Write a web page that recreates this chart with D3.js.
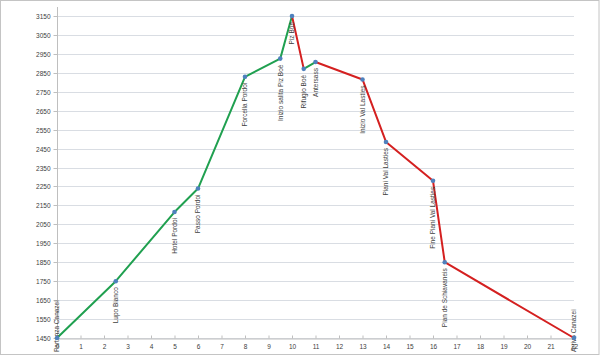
<!DOCTYPE html>
<html>
<head>
<meta charset="utf-8">
<script src="https://cdn.jsdelivr.net/npm/d3@7"></script>
<style>
  html, body { margin: 0; padding: 0; background: #fff; }
  svg { display: block; }
  text { font-family: "Liberation Sans", Arial, sans-serif; fill: #404040; }
</style>
</head>
<body>
<svg id="chart" width="600" height="357"></svg>
<script>
// ---- data ----
const places = [
  "Partenza Canazei", "Lupo Bianco", "Hotel Pordoi", "Passo Pordoi",
  "Forcella Pordoi", "Inizio salita Piz Boè", "Piz Boè", "Rifugio Boè",
  "Antersass", "Inizio Val Lasties", "Piani Val Lasties",
  "Fine Piani Val Lasties", "Pian de Schiavaneis", "Arrivo Canazei"
];
const km = [0, 2.5, 5, 6, 8, 9.5, 10, 10.5, 11, 13, 14, 16, 16.5, 22];
const altitude = [1450, 1750, 2115, 2239, 2829, 2925, 3150, 2871, 2907, 2815, 2485, 2280, 1850, 1450];
const yTicks = [1450, 1550, 1650, 1750, 1850, 1950, 2050, 2150, 2250, 2350, 2450, 2550, 2650, 2750, 2850, 2950, 3050, 3150];
const xTicks = d3.range(0, 23, 1);
const ascentColor = "#20a050";
const descentColor = "#d42020";

// ---- layout ----
const svg = d3.select("#chart");
const x = d3.scaleLinear().domain([0, 22]).range([57, 574]);
const y = d3.scaleLinear().domain([1450, 3150]).range([338, 16]);

svg.append("rect").attr("x", 0.5).attr("y", 0.5).attr("width", 598.5).attr("height", 354)
  .attr("fill", "#fff").attr("stroke", "#c4c4c4").attr("stroke-width", 1);

// gridlines
svg.append("g").selectAll("line").data(yTicks).join("line")
  .attr("x1", x(0)).attr("x2", x(22))
  .attr("y1", d => Math.round(y(d)) + 0.5).attr("y2", d => Math.round(y(d)) + 0.5)
  .attr("stroke", "#d9dde3").attr("stroke-width", 1);

// y axis
const yAxis = svg.append("g").attr("transform", `translate(${x(0) + 0.5},0)`)
  .call(d3.axisLeft(y).tickValues(yTicks).tickSize(4).tickPadding(3).tickFormat(d3.format("d")));
yAxis.select(".domain").attr("d", `M0,7V${y(1450)}`).attr("stroke", "#bfbfbf");
yAxis.selectAll(".tick line").attr("stroke", "#bfbfbf");
yAxis.selectAll(".tick text").attr("font-size", "6.5px").attr("fill", "#404040")
  .attr("font-family", "Liberation Sans, Arial, sans-serif");
yAxis.selectAll(".tick").attr("transform", d => `translate(0,${Math.round(y(d)) + 0.5})`);

// x axis
const xAxis = svg.append("g").attr("transform", `translate(0,${Math.round(y(1450)) + 0.5})`)
  .call(d3.axisBottom(x).tickValues(xTicks).tickSize(-3).tickPadding(6).tickFormat(d3.format("d")));
xAxis.select(".domain").attr("stroke", "#bfbfbf");
xAxis.selectAll(".tick line").attr("stroke", "#bfbfbf");
xAxis.selectAll(".tick text").attr("font-size", "6.5px").attr("fill", "#404040")
  .attr("font-family", "Liberation Sans, Arial, sans-serif");

// segments coloured by climbing / descending
const segs = d3.range(km.length - 1).map(i => ({
  x1: km[i], y1: altitude[i], x2: km[i + 1], y2: altitude[i + 1],
  up: altitude[i + 1] > altitude[i]
}));
svg.append("g").selectAll("line").data(segs).join("line")
  .attr("x1", d => x(d.x1)).attr("y1", d => y(d.y1))
  .attr("x2", d => x(d.x2)).attr("y2", d => y(d.y2))
  .attr("stroke", d => d.up ? ascentColor : descentColor)
  .attr("stroke-width", 2).attr("stroke-linecap", "round");

// labels (rotated, below point, kept inside chart)
const pts = km.map((k, i) => ({ k, a: altitude[i], name: places[i] }));
const lab = svg.append("g").selectAll("text").data(pts).join("text")
  .attr("font-size", "6.5px").attr("fill", "#404040")
  .attr("text-anchor", "end").attr("dy", "0.35em")
  .text(d => d.name);
lab.each(function (d) {
  const len = this.getComputedTextLength();
  let top = y(d.a) + 6;
  if (top + len > 352) top = 352 - len;
  d3.select(this).attr("transform", `translate(${x(d.k)},${top}) rotate(-90)`);
});

// markers
svg.append("g").selectAll("circle").data(pts).join("circle")
  .attr("cx", d => x(d.k)).attr("cy", d => y(d.a)).attr("r", 2.3)
  .attr("fill", "#4f81bd");
</script>
</body>
</html>
